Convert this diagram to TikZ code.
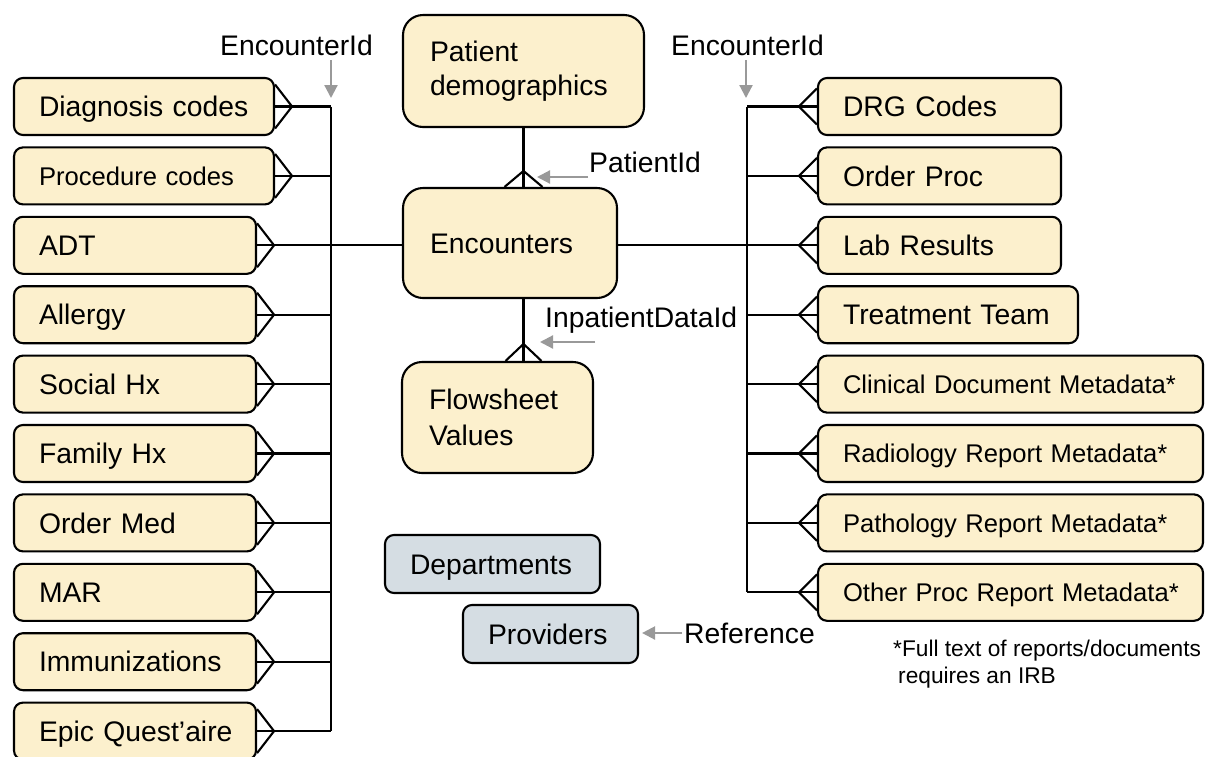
\documentclass[tikz,border=0pt]{standalone}
\usepackage{fontspec}
\setmainfont{Liberation Sans}
\usetikzlibrary{arrows.meta}
\definecolor{cream}{RGB}{252,240,205}
\definecolor{slate}{RGB}{213,221,227}
\definecolor{arrowgray}{RGB}{153,153,153}
\begin{document}
\begin{tikzpicture}[x=1pt,y=-1pt,
 ent/.style={draw=black, line width=2.1pt, fill=cream, rounded corners=9pt, inner xsep=25pt, inner ysep=0pt, minimum height=57pt, align=left, font=\fontsize{28.3}{34}\selectfont, text height=20.3pt, text depth=0pt},
 sm/.style={font=\fontsize{25.6}{31}\selectfont, text height=18.3pt, text depth=0pt},
 multi/.style={text height=, text depth=},
 bigbox/.style={ent, rounded corners=20pt, inner xsep=27pt},
 refbox/.style={ent, fill=slate, minimum height=58pt},
 conn/.style={line width=2.1pt, draw=black},
 crow/.style={line width=2.1pt, draw=black, line join=miter},
 lbl/.style={inner sep=0pt, font=\fontsize{28.3}{34}\selectfont, anchor=base west},
 garrow/.style={draw=arrowgray, line width=2.2pt, -{Triangle[length=13pt,width=13pt]}}]
\useasboundingbox (0,0) rectangle (1206,756);

% left entities
\node[ent, text width=210pt] (diag) at (144,106.5) {\mbox{Diagnosis codes}};
\node[ent, sm, text width=210pt] (proc) at (144,175.9) {\mbox{Procedure codes}};
\node[ent, text width=192pt] (adt) at (135,245.3) {ADT};
\node[ent, text width=192pt] (allergy) at (135,314.7) {Allergy};
\node[ent, text width=192pt] (social) at (135,384.1) {\mbox{Social Hx}};
\node[ent, text width=192pt] (family) at (135,453.5) {\mbox{Family Hx}};
\node[ent, text width=192pt] (ordmed) at (135,522.9) {\mbox{Order Med}};
\node[ent, text width=192pt] (mar) at (135,592.3) {MAR};
\node[ent, text width=192pt] (immun) at (135,661.7) {\mbox{Immunizations}};
\node[ent, text width=192pt] (epic) at (135,731.1) {\mbox{Epic Quest’aire}};

% right entities
\node[ent, text width=193pt] (drg) at (939.5,106.5) {\mbox{DRG Codes}};
\node[ent, text width=193pt] (ordproc) at (939.5,175.9) {\mbox{Order Proc}};
\node[ent, text width=193pt] (lab) at (939.5,245.3) {\mbox{Lab Results}};
\node[ent, text width=210pt] (team) at (948,314.7) {\mbox{Treatment Team}};
\node[ent, sm, text width=335pt] (clin) at (1010.5,384.1) {\mbox{Clinical Document Metadata*}};
\node[ent, sm, text width=335pt] (rad) at (1010.5,453.5) {\mbox{Radiology Report Metadata*}};
\node[ent, sm, text width=335pt] (path) at (1010.5,522.9) {\mbox{Pathology Report Metadata*}};
\node[ent, sm, text width=335pt] (other) at (1010.5,592.3) {\mbox{Other Proc Report Metadata*}};

% central entities
\node[bigbox, multi, text width=187pt, minimum height=112pt] (pat) at (523.5,71) {Patient\\demographics};
\node[bigbox, text width=160pt, minimum height=110pt] (enc) at (510,243) {Encounters};
\node[bigbox, multi, text width=137pt, minimum height=111pt, font=\fontsize{28.3}{36}\selectfont] (flow) at (497.5,417.5) {Flowsheet\\Values};
\node[refbox, text width=165pt] (dept) at (492.5,564) {\mbox{Departments}};
\node[refbox, text width=125pt] (prov) at (550.5,634) {Providers};

% labels
\node[lbl] (encL) at (220,55) {EncounterId};
\node[lbl] (encR) at (671,55) {EncounterId};
\node[lbl] (pid) at (589,172) {PatientId};
\node[lbl] (ipd) at (545,327) {InpatientDataId};
\node[lbl] (refl) at (684,643) {Reference};
\node[inner sep=0pt, anchor=north west, align=left, font=\fontsize{22.7}{27}\selectfont] (note) at (893,640) {*Full text of reports/documents\\\hspace*{5pt}requires an IRB};

% buses
\coordinate (vLt) at (331,106.5); \coordinate (vLb) at (331,731.1);
\coordinate (vRt) at (747,106.5); \coordinate (vRb) at (747,592.3);
\draw[conn] (vLt) -- (vLb);
\draw[conn] (vRt) -- (vRb);

\foreach \n in {diag,proc,allergy,social,family,ordmed,mar,immun,epic}{
  \draw[conn] (\n.east) -- (\n.east -| vLt);
}
\draw[conn] (adt.east) -- (enc.west |- adt.east);
\foreach \n in {diag,proc,adt,allergy,social,family,ordmed,mar,immun,epic}{
  \draw[crow] ([yshift=22pt]\n.east) -- ([xshift=17pt]\n.east) -- ([yshift=-22pt]\n.east);
}

\foreach \n in {drg,ordproc,team,clin,rad,path,other}{
  \draw[conn] (\n.west) -- (\n.west -| vRt);
}
\draw[conn] (enc.east |- lab.west) -- (lab.west);
\foreach \n in {drg,ordproc,lab,team,clin,rad,path,other}{
  \draw[crow] ([yshift=18pt]\n.west) -- ([xshift=-18pt]\n.west) -- ([yshift=-18pt]\n.west);
}

% patient - encounters
\coordinate (pe) at (pat.south |- enc.north);
\draw[conn] (pat.south) -- (pe);
\draw[crow] ([xshift=-19pt]pe) -- ([yshift=16pt]pe) -- ([xshift=19pt]pe);

% encounters - flowsheet
\coordinate (ef1) at (pat.south |- enc.south);
\coordinate (ef2) at (pat.south |- flow.north);
\draw[conn] (ef1) -- (ef2);
\draw[crow] ([xshift=-18pt]ef2) -- ([yshift=17pt]ef2) -- ([xshift=18pt]ef2);

% gray arrows
\coordinate (aL1) at (331,60); \coordinate (aL2) at (331,98);
\coordinate (aR1) at (746,60); \coordinate (aR2) at (746,98);
\coordinate (aP1) at (588,177); \coordinate (aP2) at (537,177);
\coordinate (aI1) at (595,342); \coordinate (aI2) at (540,342);
\draw[garrow] (aL1) -- (aL2);
\draw[garrow] (aR1) -- (aR2);
\draw[garrow] (aP1) -- (aP2);
\draw[garrow] (aI1) -- (aI2);
\draw[garrow, shorten <=2pt, shorten >=3pt] (refl.west |- 0,633) -- (prov.east |- 0,633);
\end{tikzpicture}
\end{document}
